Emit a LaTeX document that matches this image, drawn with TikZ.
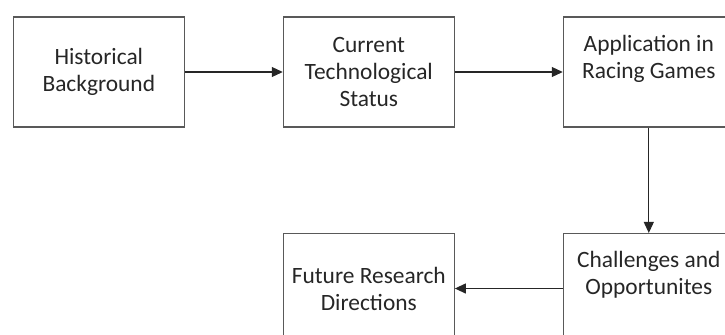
\documentclass[tikz,border=0pt]{standalone}
\usepackage{fontspec}
\setmainfont{Carlito}
\usetikzlibrary{arrows.meta}
\definecolor{boxline}{HTML}{595959}
\definecolor{txt}{HTML}{262626}
\tikzset{
  stage/.style={draw=boxline, line width=1.1bp, rectangle, minimum width=171bp,
    minimum height=110bp, align=center, text=txt, inner sep=2bp,
    font=\fontsize{23.4bp}{27bp}\selectfont},
  raised/.style={text depth=31bp},
  flow/.style={draw=black!85, line width=1.1bp,
    -{Triangle[length=11bp,width=10bp]}}
}
\begin{document}
\begin{tikzpicture}[x=1bp,y=-1bp]
  \useasboundingbox (0,0) rectangle (725,334);
  \node[stage] (hist) at (98.8,72) {Historical\\Background};
  \node[stage] (curr) at (368.8,72) {Current\\Technological\\Status};
  \node[stage, raised] (app) at (648.8,72) {Application in\\Racing Games};
  \node[stage, raised] (chal) at (648.8,288.5) {Challenges and\\Opportunites};
  \node[stage] (fut) at (368.8,288.5) {Future Research\\Directions};
  \draw[flow] (hist) -- (curr);
  \draw[flow] (curr) -- (app);
  \draw[flow] (app) -- (chal);
  \draw[flow] (chal) -- (fut);
\end{tikzpicture}
\end{document}
